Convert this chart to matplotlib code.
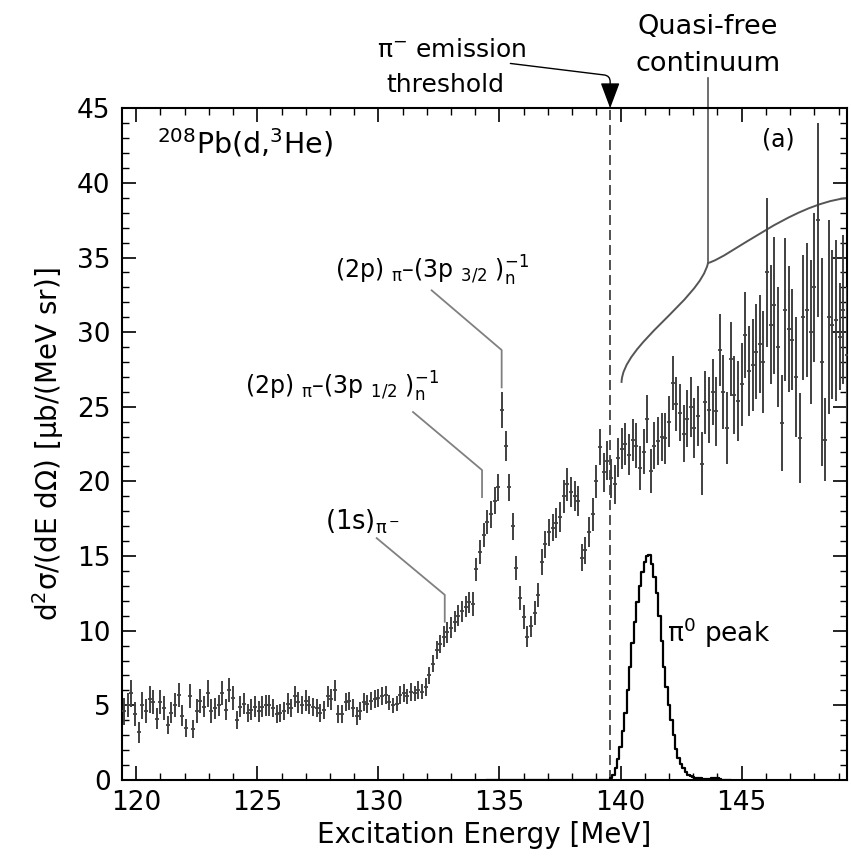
import numpy as np
import matplotlib.pyplot as plt
from matplotlib.path import Path
from matplotlib.patches import PathPatch
from matplotlib.ticker import MultipleLocator

plt.rcParams['font.family'] = ['DejaVu Sans']
plt.rcParams['mathtext.fontset'] = 'dejavusans'

# -----------------------------
# (d,3He) spectrum, 0.15 MeV bins starting at 119.5 MeV
# -----------------------------
E_START = 119.5
E_BIN = 0.15

xsec = [
    4.6, 5.0, 5.8, 4.4, 3.2, 5.0, 4.6, 5.4, 5.2, 4.1,
    5.2, 4.8, 3.7, 4.5, 5.0, 5.7, 4.3, 3.5, 5.6, 3.4,
    4.6, 5.3, 4.9, 5.8, 4.6, 4.8, 5.0, 5.8, 4.7, 6.0,
    5.5, 4.0, 4.9, 5.1, 4.5, 4.7, 4.9, 4.6, 4.9, 5.0,
    5.0, 4.8, 4.4, 4.5, 4.6, 5.1, 4.8, 5.6, 5.2, 5.0,
    5.3, 5.0, 4.9, 4.8, 4.5, 4.7, 5.6, 5.4, 6.0, 4.4,
    4.4, 5.2, 5.3, 4.8, 4.3, 4.6, 5.2, 5.1, 5.3, 5.4,
    5.5, 5.6, 5.7, 5.2, 5.0, 5.1, 5.7, 5.8, 5.6, 5.9,
    5.8, 6.0, 5.9, 6.2, 7.0, 7.8, 8.7, 9.1, 9.6, 9.9,
    10.2, 10.6, 11.0, 11.3, 11.6, 11.9, 11.8, 14.1, 15.3, 16.4,
    17.3, 17.8, 18.7, 19.6, 24.8, 22.4, 19.6, 17.0, 14.2, 12.2,
    10.9, 9.6, 10.3, 11.2, 12.4, 14.6, 15.8, 16.6, 16.9, 17.2,
    17.6, 19.0, 19.8, 19.3, 19.0, 18.7, 14.9, 15.4, 16.6, 17.8,
    20.0, 22.3, 20.6, 21.4, 20.2, 19.8, 21.6, 22.2, 22.5, 21.8,
    22.8, 22.4, 20.9, 22.0, 24.2, 20.7, 22.4, 22.7, 23.0, 22.9,
    24.0, 26.6, 25.2, 24.6, 23.2, 24.2, 25.0, 23.6, 24.4, 21.2,
    25.3, 24.8, 26.0, 24.7, 28.8, 26.0, 23.6, 28.2, 25.8, 25.4,
    26.5, 29.8, 27.4, 27.8, 28.7, 29.2, 28.0, 34.0, 30.5, 31.8,
    29.0, 23.9, 31.5, 30.2, 29.5, 27.0, 22.9, 31.0, 31.5, 30.0,
    33.0, 37.5, 28.0, 22.8, 31.0, 30.5, 30.8, 29.7, 31.5, 28.5,
]

xsec_err = [
    0.9, 0.8, 0.9, 0.8, 0.7, 0.9, 0.8, 0.9, 0.8, 0.7,
    0.8, 0.8, 0.6, 0.7, 0.8, 0.8, 0.7, 0.6, 0.8, 0.6,
    0.8, 0.8, 0.7, 0.9, 0.8, 0.7, 0.7, 0.8, 0.7, 0.8,
    0.8, 0.6, 0.7, 0.7, 0.6, 0.7, 0.7, 0.7, 0.7, 0.7,
    0.7, 0.6, 0.6, 0.6, 0.6, 0.7, 0.6, 0.7, 0.7, 0.6,
    0.7, 0.6, 0.6, 0.6, 0.6, 0.6, 0.7, 0.7, 0.7, 0.6,
    0.6, 0.6, 0.6, 0.6, 0.6, 0.6, 0.6, 0.6, 0.6, 0.6,
    0.6, 0.6, 0.6, 0.5, 0.5, 0.5, 0.6, 0.6, 0.5, 0.6,
    0.5, 0.6, 0.5, 0.6, 0.6, 0.6, 0.6, 0.6, 0.7, 0.7,
    0.7, 0.7, 0.7, 0.7, 0.7, 0.7, 0.8, 0.8, 0.8, 0.8,
    0.8, 0.9, 0.9, 0.9, 1.2, 1.0, 0.9, 0.9, 0.8, 0.8,
    0.8, 0.7, 0.7, 0.8, 0.8, 0.9, 0.9, 0.9, 0.9, 1.0,
    1.0, 1.1, 1.1, 1.0, 1.0, 1.0, 0.9, 0.9, 1.0, 1.1,
    1.1, 1.2, 1.3, 1.3, 1.3, 1.3, 1.3, 1.4, 1.4, 1.4,
    1.4, 1.5, 1.5, 1.5, 1.6, 1.5, 1.6, 1.6, 1.6, 1.7,
    1.7, 1.8, 1.8, 1.9, 1.9, 1.9, 2.0, 2.0, 2.0, 2.1,
    2.1, 2.2, 2.2, 2.3, 2.4, 2.5, 2.4, 2.5, 2.6, 2.7,
    2.8, 2.9, 3.0, 3.1, 3.2, 3.3, 3.4, 5.0, 4.0, 4.6,
    4.0, 3.2, 4.8, 4.2, 3.4, 4.0, 3.0, 4.2, 4.5, 4.8,
    5.0, 6.5, 7.0, 2.8, 6.5, 5.0, 5.4, 3.6, 5.0, 4.5,
]

# -----------------------------
# simulated pi0 peak, 0.1 MeV bins starting at 134.5 MeV
# -----------------------------
PI0_START = 134.5
PI0_BIN = 0.1
pi0 = [0.0] * 51 + [
    0.1, 0.3, 0.8, 1.4, 2.2, 3.3, 4.5, 6.0, 7.6, 9.2,
    10.6, 11.9, 13.0, 13.9, 14.6, 15.0, 15.1, 14.5, 13.6, 12.5,
    11.0, 9.3, 7.6, 6.2, 5.0, 4.0, 3.0, 2.1, 1.5, 1.1,
    0.8, 0.55, 0.35, 0.25, 0.2, 0.15, 0.1, 0.1, 0.08, 0.05,
    0.05, 0.05, 0.1, 0.15, 0.1, 0.05, 0.0, 0.0, 0.0, 0.0,
]

PI_THRESHOLD = 139.57   # pi- mass [MeV]

energy = E_START + E_BIN * np.arange(len(xsec))
pi0_e = PI0_START + PI0_BIN * np.arange(len(pi0))

# -----------------------------
# figure
# -----------------------------
fig = plt.figure(figsize=(8.51, 8.59), dpi=100)
ax = fig.add_axes([0.143, 0.092, 0.852, 0.782])

ax.errorbar(energy, xsec, yerr=xsec_err, fmt='_', ms=3.5, mew=1.3,
            color='#404040', ecolor='#404040', elinewidth=1.4, capsize=0, zorder=3)
ax.plot(pi0_e, pi0, drawstyle='steps-mid', color='black', lw=1.6, zorder=4)
ax.axvline(PI_THRESHOLD, color='#333333', lw=1.2, ls=(0, (6, 3)), zorder=2)

# leader lines for the pionic states
lead = dict(color='#808080', lw=1.3, zorder=2)
ax.plot([129.93, 132.74, 132.74], [16.2, 12.4, 10.6], **lead)
ax.plot([131.43, 134.28, 134.28], [24.65, 20.76, 18.95], **lead)
ax.plot([132.2, 135.09, 135.09], [32.8, 28.8, 26.3], **lead)

txt = dict(fontsize=17, ha='left', va='baseline')
ax.text(127.79, 16.75, r'(1s)$_{\mathrm{\pi}^-}$', fontsize=18.5, ha='left', va='baseline')
ax.text(124.48, 25.8, r'(2p) $_{\mathrm{\pi}}$–(3p $_{1/2}$ )$_{\rm n}^{-1}$', **txt)
ax.text(128.2, 33.6, r'(2p) $_{\mathrm{\pi}}$–(3p $_{3/2}$ )$_{\rm n}^{-1}$', **txt)
ax.text(141.92, 9.25, r'$\mathrm{\pi}^0$ peak', fontsize=19, ha='left', va='baseline')
ax.text(120.85, 42.0, r'$^{208}$Pb(d,$^{3}$He)', fontsize=20.5, ha='left', va='baseline')
ax.text(146.5, 42.9, '(a)', fontsize=17, ha='center', va='center')

# quasi-free continuum brace
brace = Path(
    [(140.04, 26.6), (140.05, 29.14), (143.27, 32.15), (143.61, 34.63),
     (144.52, 35.03), (146.99, 38.51), (149.31, 38.98)],
    [Path.MOVETO, Path.CURVE4, Path.CURVE4, Path.CURVE4,
     Path.CURVE4, Path.CURVE4, Path.CURVE4])
ax.add_patch(PathPatch(brace, fill=False, color='#555555', lw=1.4, zorder=2))
ax.plot([143.61, 143.61], [34.63, 47.0], color='#555555', lw=1.2, clip_on=False)
ax.text(143.61, 47.5, 'continuum', fontsize=19.5, ha='center', va='baseline')
ax.text(143.61, 50.0, 'Quasi-free', fontsize=19.5, ha='center', va='baseline')

# pi- emission threshold arrow
ax.annotate('', xy=(PI_THRESHOLD, 45.0), xytext=(135.45, 48.0),
            arrowprops=dict(arrowstyle='-|>,head_length=1.6,head_width=0.6',
                            connectionstyle='angle,angleA=-7,angleB=90,rad=6',
                            color='black', lw=1.0, shrinkA=0, shrinkB=0),
            annotation_clip=False)
ax.text(133.03, 48.4, r'$\mathrm{\pi}^{-}$ emission', fontsize=18, ha='center', va='baseline')
ax.text(132.76, 46.1, 'threshold', fontsize=18, ha='center', va='baseline')

# -----------------------------
# axes
# -----------------------------
ax.set_xlim(119.4, 149.34)
ax.set_ylim(0, 45)
ax.xaxis.set_major_locator(MultipleLocator(5))
ax.xaxis.set_minor_locator(MultipleLocator(1))
ax.yaxis.set_major_locator(MultipleLocator(5))
ax.yaxis.set_minor_locator(MultipleLocator(1))
ax.tick_params(which='both', direction='in', top=True, right=True, labelsize=19)
ax.tick_params(which='major', length=10, width=1.2)
ax.tick_params(which='minor', length=5, width=1.0)
ax.tick_params(axis='y', pad=8)
ax.tick_params(axis='x', pad=7)
for s in ax.spines.values():
    s.set_linewidth(1.5)

ax.set_xlabel('Excitation Energy [MeV]', fontsize=20, labelpad=4)
ax.set_ylabel(r'd$^2$σ/(dE dΩ) [μb/(MeV sr)]', fontsize=20, labelpad=8)

fig.savefig('out.png', dpi=100)
